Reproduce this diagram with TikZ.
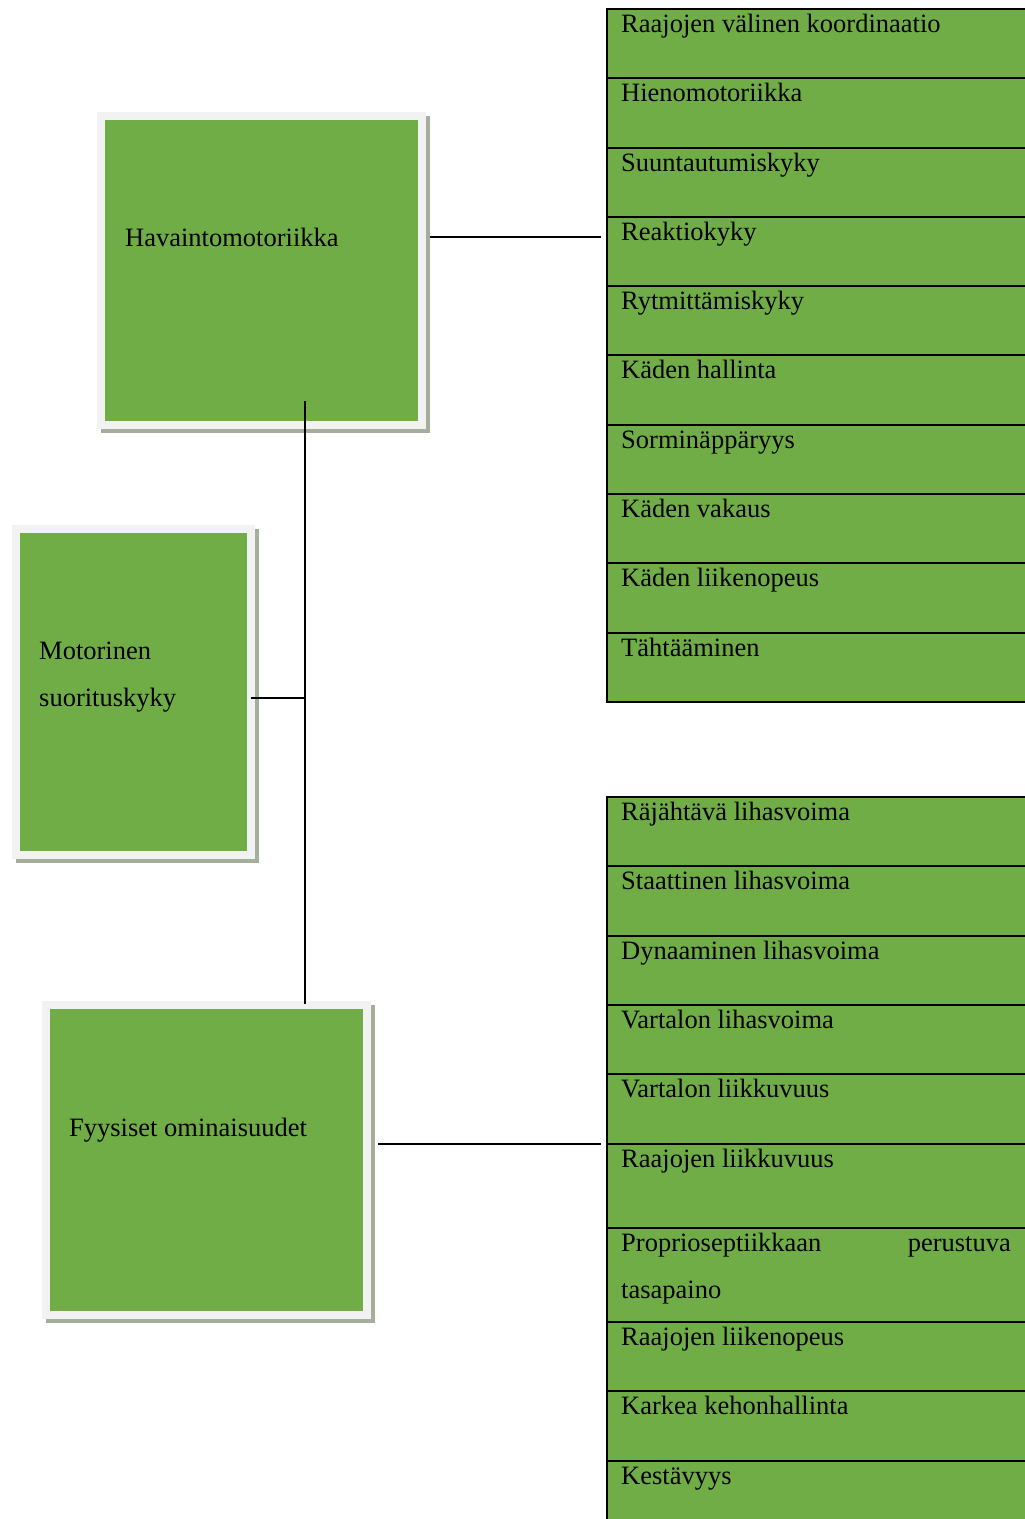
\documentclass[tikz,border=0pt]{standalone}
\usepackage{fontspec}
\setmainfont{Liberation Serif}
\definecolor{boxgreen}{RGB}{112,173,71}
\definecolor{framegray}{RGB}{242,242,242}
\definecolor{shadowgray}{RGB}{165,174,155}
\begin{document}
\begin{tikzpicture}[x=1pt,y=-1pt,
  mainbox/.style={draw=framegray, line width=8pt, fill=boxgreen, inner sep=0pt, outer sep=0pt,
    preaction={draw=shadowgray, fill=shadowgray, line width=8pt,
      transform canvas={shift={(3.5pt,-4pt)}}}},
  lbl/.style={inner sep=0pt, anchor=base west, font=\fontsize{26.5}{32}\selectfont},
  cell/.style={rectangle, draw=black, line width=2pt, fill=boxgreen, anchor=north west,
    minimum width=440pt, inner sep=0pt},
  conn/.style={draw=black, line width=2pt}]
\useasboundingbox (0,0) rectangle (1025,1519);

% main boxes
\node[mainbox, minimum width=321pt, minimum height=309pt] (hav) at (261.5,270.5) {};
\node[lbl] (havt) at (125,246) {Havaintomotoriikka};

\node[mainbox, minimum width=235pt, minimum height=326pt] (mot) at (133.5,692) {};
\node[lbl] (mott1) at (39,659) {Motorinen};
\node[lbl] (mott2) at (39,706) {suorituskyky};

\node[mainbox, minimum width=321pt, minimum height=310pt] (fyy) at (206.5,1160) {};
\node[lbl] (fyyt) at (69,1136) {Fyysiset ominaisuudet};

% top table
\foreach \n/\t/\b/\s in {
  a1/8/77/Raajojen välinen koordinaatio,
  a2/77/147/Hienomotoriikka,
  a3/147/216/Suuntautumiskyky,
  a4/216/285/Reaktiokyky,
  a5/285/354/Rytmittämiskyky,
  a6/354/424/Käden hallinta,
  a7/424/493/Sorminäppäryys,
  a8/493/562/Käden vakaus,
  a9/562/632/Käden liikenopeus,
  a10/632/701/Tähtääminen}{
  \node[cell, minimum height={(\b-\t)*1pt}] (\n) at (606,\t) {};
  \node[lbl] (\n t) at ([shift={(15,24.5)}]\n.north west) {\s};
}

% bottom table
\foreach \n/\t/\b/\s in {
  b1/796/865/Räjähtävä lihasvoima,
  b2/865/935/Staattinen lihasvoima,
  b3/935/1004/Dynaaminen lihasvoima,
  b4/1004/1073/Vartalon lihasvoima,
  b5/1073/1143/Vartalon liikkuvuus,
  b6/1143/1227/Raajojen liikkuvuus,
  b7/1227/1321/Proprioseptiikkaan,
  b8/1321/1390/Raajojen liikenopeus,
  b9/1390/1460/Karkea kehonhallinta,
  b10/1460/1535/Kestävyys}{
  \node[cell, minimum height={(\b-\t)*1pt}] (\n) at (606,\t) {};
  \node[lbl] (\n t) at ([shift={(15,24.5)}]\n.north west) {\s};
}
\node[lbl, anchor=base east] (b7t2) at (1011,1251.5) {perustuva};
\node[lbl] (b7t3) at ([shift={(15,71.5)}]b7.north west) {tasapaino};

% connectors
\coordinate (j1) at (305,401);
\coordinate (j2) at (305,698);
\coordinate (j3) at (305,1004);
\draw[conn] (j1) -- (j3);
\draw[conn] (mot.east |- j2) -- (j2);

\coordinate (h1) at (430,237);
\coordinate (h2) at (601,237);
\draw[conn] (h1) -- (h2);

\coordinate (f1) at (378,1144);
\coordinate (f2) at (601,1144);
\draw[conn] (f1) -- (f2);
\end{tikzpicture}
\end{document}
